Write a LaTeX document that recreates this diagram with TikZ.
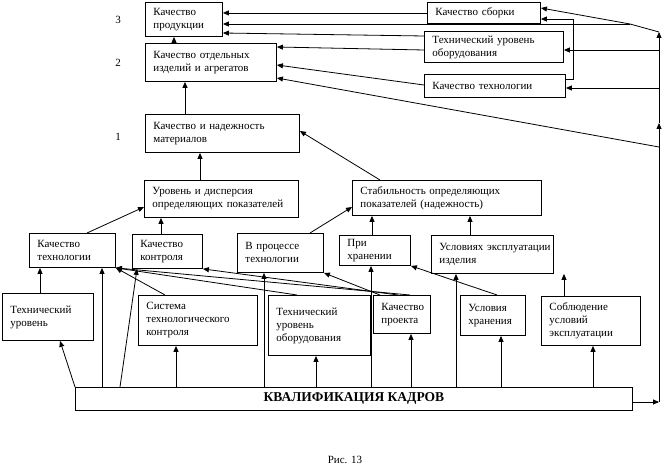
\documentclass[tikz,border=0pt]{standalone}
\usepackage{fontspec}
\setmainfont{Liberation Serif}
\usetikzlibrary{arrows.meta}
\newcommand{\mybox}[6]{%
  \pgfmathsetmacro{\mytw}{#4-16}%
  \node[box, minimum width=#4pt, minimum height=#5pt, text width=\mytw pt] (#1) at (#2,#3) {#6};}
\begin{document}
\begin{tikzpicture}[x=1pt,y=-1pt,
  font=\fontsize{11}{13}\selectfont,
  box/.style={draw, line width=0.9pt, rectangle, anchor=north west, align=left, inner sep=0pt},
  arr/.style={line width=0.8pt, -{Triangle[length=6pt,width=5pt]}},
  lbl/.style={inner sep=0pt}]
\useasboundingbox (0,0) rectangle (664,470);
\mybox{prod}{145}{2}{77}{34}{Качество\\продукции}
\mybox{izd}{145}{43}{131}{38}{Качество отдельных\\изделий и агрегатов}
\mybox{sb}{427}{2}{113}{21}{Качество сборки}
\mybox{teq}{424}{31}{139}{31}{Технический уровень\\оборудования}
\mybox{kt}{424}{74}{141}{23}{Качество технологии}
\mybox{kn}{145}{114}{154}{38}{Качество и надежность\\материалов}
\mybox{ur}{144}{180}{154}{37}{Уровень и дисперсия\\определяющих показателей}
\mybox{st}{352}{180}{189}{35}{Стабильность определяющих\\показателей (надежность)}
\mybox{kteh}{29}{233}{86}{34}{Качество\\технологии}
\mybox{kk2}{132}{234}{70}{34}{Качество\\контроля}
\mybox{vpt}{237}{233}{86}{39}{В процессе\\технологии}
\mybox{ph}{339}{235}{71}{30}{При\\хранении}
\mybox{ue}{431}{235}{122}{38}{Условиях~эксплуатации\\изделия}
\mybox{tu}{2}{293}{91}{47}{Технический\\уровень}
\mybox{sys}{138}{295}{119}{50}{Система\\технологического\\контроля}
\mybox{teqb}{268}{295}{102}{60}{Технический\\уровень\\оборудования}
\mybox{kp}{373}{295}{57}{38}{Качество\\проекта}
\mybox{uh}{460}{295}{65}{40}{Условия\\хранения}
\mybox{sob}{541}{296}{99}{49}{Соблюдение\\условий\\эксплуатации}
\node[box, anchor=north west, minimum width=557pt, minimum height=23pt, align=center] (kk) at (75,387) {\fontsize{13.5}{16}\selectfont\textbf{КВАЛИФИКАЦИЯ КАДРОВ}};
\node[lbl] (l3) at (118,20) {3};
\node[lbl] (l2) at (118,63) {2};
\node[lbl] (l1) at (118,137) {1};
\node[lbl] (cap) at (345,460) {Рис. 13};
\coordinate (vt) at (659,32);
\coordinate (vm) at (659,123);
\coordinate (vb) at (659,402);
\coordinate (j) at (630,24);
\coordinate (lo) at (659,147);
% top
\draw[arr] (sb.west) -- (sb.west -| prod.east);
\draw[arr] (kk.east |- vb) -- (vb);
\draw[arr] (vb) -- (vm);
\draw[arr] (vm) -- (vt);
\draw[arr] (vt) -- (j) -- (sb.east |- 0,8);
\draw[arr] (j) -- (j -| prod.east);
\draw[arr] (teq.west |- 0,36) -- (prod.east |- 0,33);
\draw[arr] (teq.west |- 0,50) -- (izd.east |- 0,47);
\draw[arr] (kt.west |- 0,85) -- (izd.east |- 0,65);
\draw[arr] (lo) -- (izd.east |- 0,78);
\draw[arr] (kt.east |- 0,79) -- (573,79) -- (573,19) -- (sb.east |- 0,19);
\draw[arr] (vt |- 0,50) -- (teq.east |- 0,50);
\draw[arr] (vt |- 0,88) -- (kt.east |- 0,88);
% middle
\draw[arr] (174,0 |- izd.north) -- (174,0 |- prod.south);
\draw[arr] (185,0 |- kn.north) -- (185,0 |- izd.south);
\draw[arr] (200,0 |- ur.north) -- (200,0 |- kn.south);
\draw[arr] (380,0 |- st.north) -- (kn.east |- 0,131);
\draw[arr] (87,0 |- kteh.north) -- (ur.west |- 0,207);
\draw[arr] (161,0 |- kk2.north) -- (161,0 |- ur.south);
\draw[arr] (310,0 |- vpt.north) -- (st.west |- 0,207);
\draw[arr] (372,0 |- ph.north) -- (372,0 |- st.south);
\draw[arr] (470,0 |- ue.north) -- (470,0 |- st.south);
% bottom
\draw[arr] (40,0 |- tu.north) -- (40,0 |- kteh.south);
\draw[arr] (kk.north west) -- (60,0 |- tu.south);
\draw[arr] (102,0 |- kk.north) -- (102,0 |- kteh.south);
\draw[arr] (120,0 |- kk.north) -- (137,0 |- kk2.south);
\draw[arr] (176,0 |- kk.north) -- (176,0 |- sys.south);
\draw[arr] (264,0 |- kk.north) -- (264,0 |- vpt.south);
\draw[arr] (316,0 |- kk.north) -- (316,0 |- teqb.south);
\draw[arr] (371,0 |- kk.north) -- (371,0 |- ph.south);
\draw[arr] (411,0 |- kk.north) -- (411,0 |- kp.south);
\draw[arr] (456,0 |- kk.north) -- (456,0 |- ue.south);
\draw[arr] (501,0 |- kk.north) -- (501,0 |- uh.south);
\draw[arr] (593,0 |- kk.north) -- (593,0 |- sob.south);
\draw[arr] (564,0 |- sob.north) -- (564,0 |- ue.south);
\draw[arr] (165,0 |- sys.north) -- (kteh.south east);
\draw[arr] (297,0 |- teqb.north) -- (kteh.south east);
\draw[arr] (410,0 |- kp.north) -- (kteh.south east);
\draw[arr] (398,0 |- kp.north) -- (kk2.south east);
\draw[arr] (380,0 |- kp.north) -- (vpt.south east);
\draw[arr] (497,0 |- uh.north) -- (ph.south east);
\end{tikzpicture}
\end{document}
